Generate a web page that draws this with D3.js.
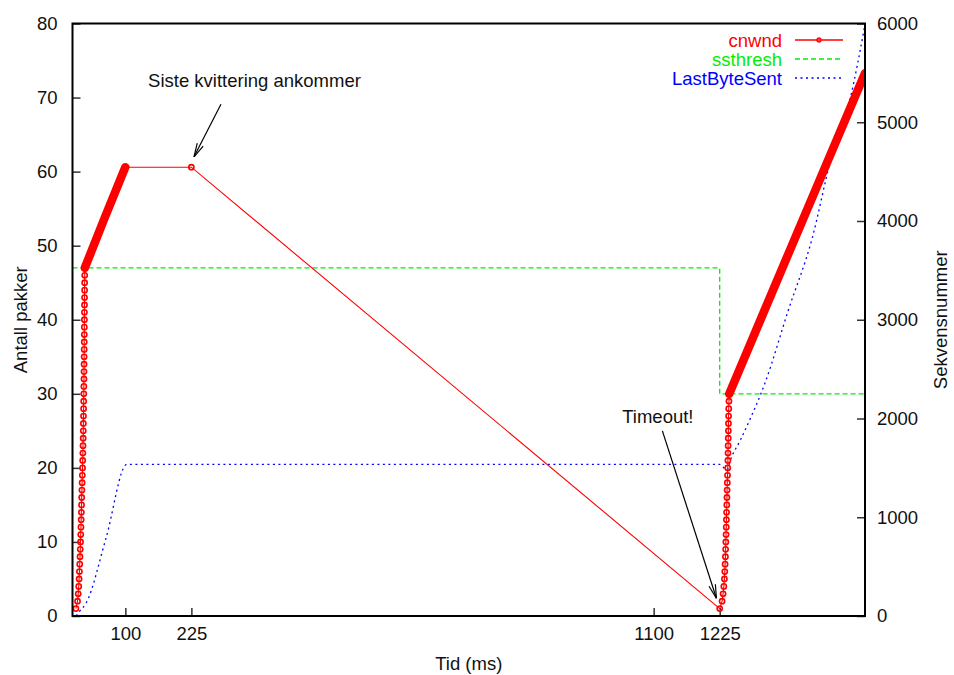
<!DOCTYPE html>
<html>
<head>
<meta charset="utf-8">
<script src="https://cdn.jsdelivr.net/npm/d3@7"></script>
<style>
  html, body { margin: 0; padding: 0; background: #fff; }
  svg { display: block; font-family: "Liberation Sans", Arial, Helvetica, sans-serif; }
</style>
</head>
<body>
<svg id="chart" width="954" height="675"></svg>
<script>
// ---- data -------------------------------------------------------------
// Time axis ticks (ms) and value axis ticks
const xTicks = [100, 225, 1100, 1225];
const yTicks = [0, 10, 20, 30, 40, 50, 60, 70, 80];
const y2Ticks = [0, 1000, 2000, 3000, 4000, 5000, 6000];

// cnwnd, slow start after connection setup: [time ms, packets]
const cwndSlowStart1 = [
  [6.5, 1], [9.5, 2], [10.8, 3], [11.8, 4], [12.5, 5], [13.1, 6], [13.7, 7], [14.2, 8],
  [14.7, 9], [15.2, 10], [15.6, 11], [16.0, 12], [16.4, 13], [16.8, 14], [17.1, 15], [17.4, 16],
  [17.8, 17], [18.2, 18], [18.6, 19], [19.0, 20], [19.3, 21], [19.6, 22], [19.9, 23], [20.2, 24],
  [20.4, 25], [20.6, 26], [20.8, 27], [21.0, 28], [21.2, 29], [21.4, 30], [21.5, 31], [21.7, 32],
  [21.8, 33], [21.9, 34], [22.0, 35], [22.1, 36], [22.2, 37], [22.3, 38], [22.4, 39], [22.5, 40],
  [22.6, 41], [22.7, 42], [22.8, 43], [22.9, 44], [23.0, 45], [23.1, 46], [23.3, 47]
];
// cnwnd, congestion avoidance (ACKs arrive too densely to separate)
const cwndAvoidance1 = [[23.3, 47], [60, 53.6], [100, 60.6]];
// cnwnd, last ACK held until the timeout fires
const cwndIdle = [[100, 60.6], [225, 60.6], [1225, 1]];
// cnwnd, slow start after timeout
const cwndSlowStart2 = [
  [1225, 1], [1229.5, 2], [1231.4, 3], [1232.8, 4], [1233.9, 5], [1234.6, 6], [1235.2, 7],
  [1235.8, 8], [1236.2, 9], [1236.6, 10], [1237.0, 11], [1237.4, 12], [1237.7, 13], [1238.0, 14],
  [1238.4, 15], [1238.7, 16], [1239.0, 17], [1239.4, 18], [1239.8, 19], [1240.2, 20], [1240.5, 21],
  [1240.7, 22], [1240.9, 23], [1241.2, 24], [1241.4, 25], [1241.6, 26], [1241.8, 27], [1242.1, 28],
  [1242.5, 29], [1243.0, 30]
];
const cwndAvoidance2 = [[1243.0, 30], [1368, 51.1], [1500, 73.3]];

// ssthresh (packets)
const ssthresh = [[0, 47], [1225, 47], [1225, 30], [1500, 30]];

// LastByteSent (sequence number, right axis)
const lastByteSent = [
  [6.6, 0], [12.9, 44], [25.6, 129], [63.4, 787], [102.7, 1535], [1225, 1535],
  [1239, 1478], [1245.3, 1580], [1264.2, 1782], [1283.1, 2002], [1302, 2238],
  [1311.6, 2373], [1355, 3099], [1400, 3825], [1434.9, 4615], [1472.8, 5259], [1500, 5990]
];

// ---- layout -----------------------------------------------------------
const svg = d3.select("#chart");
const L = 72.5, R = 865, T = 23.5, B = 616;
const FONT = 18.5;

const x = d3.scaleLinear().domain([0, 1500]).range([L, R]);
const y = d3.scaleLinear().domain([0, 80]).range([B, T]);
const y2 = d3.scaleLinear().domain([0, 6000]).range([B, T]);

const RED = "#ff0000", GREEN = "#00ee00", BLUE = "#0000ff";

// ---- axes -------------------------------------------------------------
function styleAxis(g) {
  g.select(".domain").remove();
  g.selectAll(".tick line").attr("stroke", "#333").attr("stroke-width", 1.5);
  g.selectAll(".tick text").attr("fill", "#111").style("font-size", FONT + "px")
    .style("font-family", "'Liberation Sans', Arial, Helvetica, sans-serif");
}

svg.append("g").attr("transform", `translate(${L},0)`)
  .call(d3.axisLeft(y).tickValues(yTicks).tickSize(-8).tickPadding(15).tickFormat(d3.format("d")))
  .call(styleAxis);

svg.append("g").attr("transform", `translate(${R},0)`)
  .call(d3.axisRight(y2).tickValues(y2Ticks).tickSize(-8).tickPadding(12).tickFormat(d3.format("d")))
  .call(styleAxis);

svg.append("g").attr("transform", `translate(0,${B})`)
  .call(d3.axisBottom(x).tickValues(xTicks).tickSize(-8).tickPadding(11).tickFormat(d3.format("d")))
  .call(styleAxis);

// ---- plot clip --------------------------------------------------------
svg.append("clipPath").attr("id", "plotclip")
  .append("rect").attr("x", L).attr("y", T).attr("width", R - L).attr("height", B - T);
const plot = svg.append("g").attr("clip-path", "url(#plotclip)");

const line = d3.line().x(d => x(d[0])).y(d => y(d[1]));
const line2 = d3.line().x(d => x(d[0])).y(d => y2(d[1]));

// LastByteSent
plot.append("path").datum(lastByteSent).attr("d", d3.line().curve(d3.curveMonotoneX).x(d => x(d[0])).y(d => y2(d[1])))
  .attr("fill", "none").attr("stroke", BLUE).attr("stroke-width", 1.3)
  .attr("stroke-dasharray", "2,3.5");

// ssthresh
plot.append("path").datum(ssthresh).attr("d", line)
  .attr("fill", "none").attr("stroke", GREEN).attr("stroke-width", 1.3)
  .attr("stroke-dasharray", "5,3");

// cnwnd: dense congestion-avoidance segments as a solid band of markers
[cwndAvoidance1, cwndAvoidance2].forEach(seg => {
  plot.append("path").datum(seg).attr("d", line)
    .attr("fill", "none").attr("stroke", RED).attr("stroke-width", 8.5)
    .attr("stroke-linecap", "round");
});

// cnwnd: connecting lines
[cwndSlowStart1, cwndIdle, cwndSlowStart2].forEach(seg => {
  plot.append("path").datum(seg).attr("d", line)
    .attr("fill", "none").attr("stroke", RED).attr("stroke-width", 1.1);
});

// cnwnd: open circle markers
const markers = cwndSlowStart1.concat([cwndIdle[1]], cwndSlowStart2);
plot.append("g").selectAll("circle").data(markers).join("circle")
  .attr("cx", d => x(d[0])).attr("cy", d => y(d[1])).attr("r", 2.6)
  .attr("fill", "none").attr("stroke", RED).attr("stroke-width", 1.6);

// ---- frame ------------------------------------------------------------
svg.append("rect").attr("x", L).attr("y", T).attr("width", R - L).attr("height", B - T)
  .attr("fill", "none").attr("stroke", "#000").attr("stroke-width", 2);

// ---- axis titles ------------------------------------------------------
svg.append("text").attr("x", (L + R) / 2).attr("y", 670).attr("text-anchor", "middle")
  .style("font-size", FONT + "px").attr("fill", "#111").text("Tid (ms)");
svg.append("text").attr("transform", `translate(27,${(T + B) / 2}) rotate(-90)`)
  .attr("text-anchor", "middle").style("font-size", FONT + "px").attr("fill", "#111")
  .text("Antall pakker");
svg.append("text").attr("transform", `translate(947,${(T + B) / 2}) rotate(-90)`)
  .attr("text-anchor", "middle").style("font-size", FONT + "px").attr("fill", "#111")
  .text("Sekvensnummer");

// ---- annotations ------------------------------------------------------
function arrow(x1, y1, x2, y2p) {
  const g = svg.append("g").attr("stroke", "#000").attr("stroke-width", 1.2).attr("fill", "none");
  g.append("line").attr("x1", x1).attr("y1", y1).attr("x2", x2).attr("y2", y2p);
  const a = Math.atan2(y2p - y1, x2 - x1), len = 14, spread = 0.24;
  [a + Math.PI - spread, a + Math.PI + spread].forEach(b => {
    g.append("line").attr("x1", x2).attr("y1", y2p)
      .attr("x2", x2 + len * Math.cos(b)).attr("y2", y2p + len * Math.sin(b));
  });
}

// "last ACK arrives" label and arrow (data coordinates)
const lastAck = { text: "Siste kvittering ankommer", tx: 143, ty: 71.4, from: [281, 69.1], to: [230, 62.0] };
svg.append("text").attr("x", x(lastAck.tx)).attr("y", y(lastAck.ty))
  .style("font-size", FONT + "px").attr("fill", "#111").text(lastAck.text);
arrow(x(lastAck.from[0]), y(lastAck.from[1]), x(lastAck.to[0]), y(lastAck.to[1]));

const timeout = { text: "Timeout!", tx: 1040.5, ty: 26.0, from: [1116.5, 25.0], to: [1218.7, 2.4] };
svg.append("text").attr("x", x(timeout.tx)).attr("y", y(timeout.ty))
  .style("font-size", FONT + "px").attr("fill", "#111").text(timeout.text);
arrow(x(timeout.from[0]), y(timeout.from[1]), x(timeout.to[0]), y(timeout.to[1]));

// ---- legend -----------------------------------------------------------
const legend = [
  { name: "cnwnd", color: RED, dash: null, marker: true },
  { name: "ssthresh", color: GREEN, dash: "5,3", marker: false },
  { name: "LastByteSent", color: BLUE, dash: "2,3.5", marker: false }
];
const lg = svg.append("g");
legend.forEach((d, i) => {
  const cy = 40 + i * 19;
  lg.append("text").attr("x", 782).attr("y", cy + 6.5).attr("text-anchor", "end")
    .style("font-size", FONT + "px").attr("fill", d.color).text(d.name);
  lg.append("line").attr("x1", 795).attr("x2", 843).attr("y1", cy).attr("y2", cy)
    .attr("stroke", d.color).attr("stroke-width", 1.3).attr("stroke-dasharray", d.dash);
  if (d.marker) {
    lg.append("circle").attr("cx", 819).attr("cy", cy).attr("r", 2)
      .attr("fill", "none").attr("stroke", d.color).attr("stroke-width", 1.3);
  }
});
</script>
</body>
</html>
